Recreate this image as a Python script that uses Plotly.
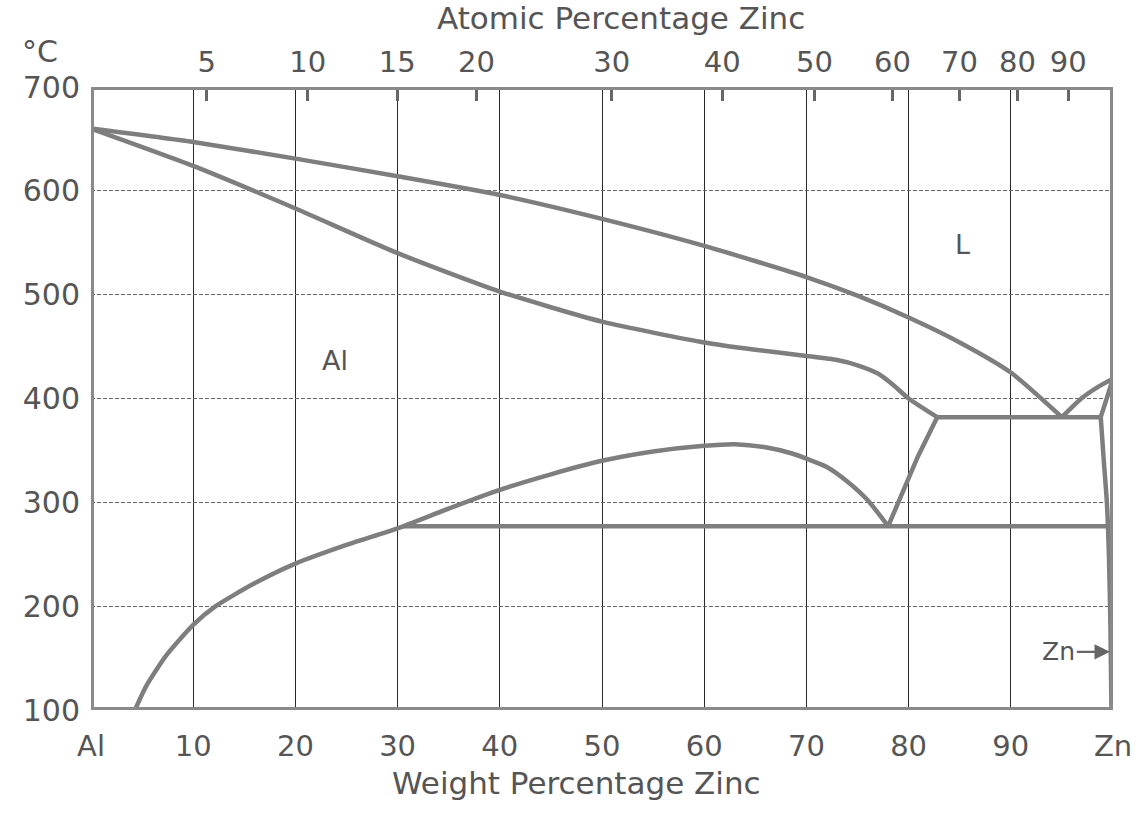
import plotly.graph_objects as go

# ---------------- data (weight % Zn, temperature °C) ----------------
liq_al_wt = [0, 10, 20, 30, 40, 50, 60, 70, 75, 80, 85, 90, 95]
liq_al_T = [660, 647, 631, 614, 596, 573, 547, 517, 499, 478, 454, 425, 382]

liq_zn_wt = [95, 96.9, 98.5, 100]
liq_zn_T = [382, 400, 411, 419]

sol_al_wt = [0, 10, 20, 30, 40, 50, 60, 65, 70, 73, 75, 77, 78.5, 80, 82.8]
sol_al_T = [660, 624, 583, 540, 503, 474, 454, 447, 441, 437, 432, 424, 413, 400, 382]

alpha_solvus_wt = [82.8, 80.9, 78]
alpha_solvus_T = [382, 344, 277]

gap_wt = [4.3, 5.4, 7.4, 10, 12.2, 16, 20, 25, 30, 35, 40, 45, 50, 55, 60, 63, 66, 68.6, 70, 72, 74, 76, 78]
gap_T = [100, 123, 153, 182, 200, 222, 241, 259, 275, 294, 312, 327, 340, 349, 354.5, 356, 353, 347, 342, 334, 320, 302, 277]

eutectic_wt = [82.8, 98.8]
eutectic_T = [382, 382]

eutectoid_wt = [30.6, 99.6]
eutectoid_T = [277, 277]

zn_solidus_wt = [98.8, 100]
zn_solidus_T = [382, 419]

zn_solvus_wt = [98.8, 99.1, 99.4, 99.6, 99.75, 99.85]
zn_solvus_T = [382, 340, 300, 250, 180, 100]

wt_ticks = [0, 10, 20, 30, 40, 50, 60, 70, 80, 90, 100]
wt_labels = ["Al", "10", "20", "30", "40", "50", "60", "70", "80", "90", "Zn"]
temp_ticks = [100, 200, 300, 400, 500, 600, 700]
atomic_ticks = [5, 10, 15, 20, 30, 40, 50, 60, 70, 80, 90]

M_ZN, M_AL = 65.38, 26.98


def at_to_wt(a):
    return 100 * a * M_ZN / (a * M_ZN + (100 - a) * M_AL)


atomic_pos = [at_to_wt(a) for a in atomic_ticks]

LINE_COLOR = "#7e7e7e"
LINE_W = 4.5
TXT = "#555555"
FONT = "DejaVu Sans"

fig = go.Figure()


def add(xs, ys, smooth=True):
    line = dict(color=LINE_COLOR, width=LINE_W)
    if smooth:
        line.update(shape="spline", smoothing=0.6)
    fig.add_trace(go.Scatter(x=xs, y=ys, mode="lines", line=line,
                             hoverinfo="skip", showlegend=False))


add(liq_al_wt, liq_al_T)
add(liq_zn_wt, liq_zn_T)
add(sol_al_wt, sol_al_T)
add(alpha_solvus_wt, alpha_solvus_T, smooth=False)
add(gap_wt, gap_T)
add(eutectic_wt, eutectic_T, smooth=False)
add(eutectoid_wt, eutectoid_T, smooth=False)
add(zn_solidus_wt, zn_solidus_T, smooth=False)
add(zn_solvus_wt, zn_solvus_T)

# invisible trace to activate the top (atomic %) axis
fig.add_trace(go.Scatter(x=[0, 100], y=[100, 100], xaxis="x2", mode="markers",
                         marker=dict(opacity=0), hoverinfo="skip", showlegend=False))

# frame
fig.add_shape(type="rect", xref="x", yref="y", x0=0, x1=100, y0=100, y1=700,
              line=dict(color="#8a8a8a", width=6), layer="above")

fig.update_layout(
    width=1144, height=815, autosize=False,
    margin=dict(l=91, r=22, t=87, b=105),
    paper_bgcolor="white", plot_bgcolor="white",
    font=dict(family=FONT, color=TXT),
    xaxis=dict(range=[0, 100], tickvals=wt_ticks, ticktext=wt_labels,
               showgrid=True, gridcolor="#2a2a2a", gridwidth=1.2,
               zeroline=False, showline=False, ticks="",
               tickfont=dict(size=29, color=TXT, family=FONT),
               ticklabelstandoff=16),
    xaxis2=dict(range=[0, 100], overlaying="x", side="top",
                tickvals=atomic_pos, ticktext=[str(a) for a in atomic_ticks],
                ticks="inside", ticklen=14, tickwidth=2.5, tickcolor="#666",
                showgrid=False, zeroline=False, showline=False,
                tickfont=dict(size=29, color=TXT, family=FONT),
                ticklabelstandoff=8),
    yaxis=dict(range=[100, 700], tickvals=temp_ticks,
               showgrid=True, gridcolor="#666", gridwidth=1, griddash="4px,2px",
               zeroline=False, showline=False, ticks="",
               tickfont=dict(size=30, color=TXT, family=FONT),
               ticklabelstandoff=10),
)

ann = [
    dict(text="Atomic Percentage Zinc", x=0.519, y=1.11, xref="paper", yref="paper",
         showarrow=False, font=dict(size=31, color=TXT, family=FONT), xanchor="center", yanchor="middle"),
    dict(text="Weight Percentage Zinc", x=0.475, y=-0.117, xref="paper", yref="paper",
         showarrow=False, font=dict(size=31, color=TXT, family=FONT), xanchor="center", yanchor="middle"),
    dict(text="°C", x=-0.05, y=1.057, xref="paper", yref="paper",
         showarrow=False, font=dict(size=30, color=TXT, family=FONT), xanchor="center", yanchor="middle"),
    dict(text="L", x=85.3, y=548, xref="x", yref="y", showarrow=False,
         font=dict(size=27, color=TXT, family=FONT)),
    dict(text="Al", x=23.9, y=437, xref="x", yref="y", showarrow=False,
         font=dict(size=27, color=TXT, family=FONT)),
    dict(text="Zn", x=99.7, y=156, xref="x", yref="y", ax=94.7, ay=156, axref="x", ayref="y",
         showarrow=True, arrowhead=2, arrowsize=1.4, arrowwidth=2.2, arrowcolor="#666",
         font=dict(size=25, color=TXT, family=FONT)),
]
fig.update_layout(annotations=ann)

fig.write_html("out.html")
